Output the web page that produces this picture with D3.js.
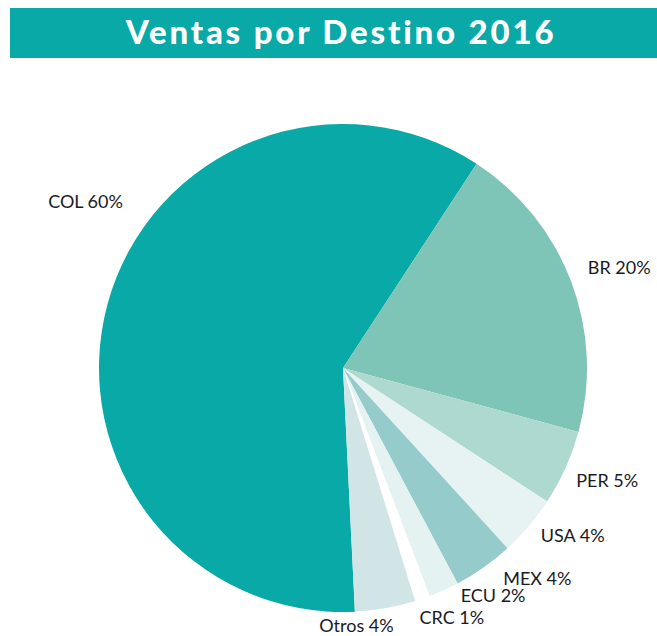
<!DOCTYPE html>
<html>
<head>
<meta charset="utf-8">
<script src="https://cdn.jsdelivr.net/npm/d3@7"></script>
<style>
	body { margin: 0; background: #fff; }
	svg { display: block; }
</style>
</head>
<body>
<div id="chart"></div>
<script>
var titleText = "Ventas por Destino 2016";
var destinos = ["COL", "BR", "PER", "USA", "MEX", "ECU", "CRC", "Otros"];
var ventas = [60, 20, 5, 4, 4, 2, 1, 4];
var colores = ["#08a9a7", "#7ec4b7", "#aed9d0", "#e7f3f3", "#95cccb", "#e4f2f2", "#ffffff", "#d1e5e6"];

// label placement: [angle in degrees clockwise from top, distance from centre]
var labelPlace = [[303, 307], [70, 294], [113, 287], [126, 284], [137.2, 286], [146.5, 272], [156.4, 272], [177, 257]];

var width = 657,
	height = 636;
var cx = 343,
	cy = 368,
	radius = 244;

var svg = d3.select("#chart").append("svg")
	.attr("width", width)
	.attr("height", height);

// title banner
svg.append("rect")
	.attr("x", 10)
	.attr("y", 8)
	.attr("width", width - 10)
	.attr("height", 50)
	.attr("fill", "#08a9a7");

svg.append("text")
	.attr("x", 341)
	.attr("y", 44)
	.attr("text-anchor", "middle")
	.attr("fill", "#fff")
	.style("font-family", "Lato, sans-serif")
	.style("font-weight", "900")
	.style("font-size", "33px")
	.style("letter-spacing", "2.8px")
	.text(titleText);

var data = destinos.map(function (d, i) {
	return { name: d, value: ventas[i], color: colores[i] };
});

var startDeg = 177.2;
var pie = d3.pie()
	.sort(null)
	.value(function (d) { return d.value; })
	.startAngle(startDeg * Math.PI / 180)
	.endAngle((startDeg + 360) * Math.PI / 180);

var arc = d3.arc().innerRadius(0).outerRadius(radius);

var g = svg.append("g").attr("transform", "translate(" + cx + "," + cy + ")");

g.selectAll("path")
	.data(pie(data))
	.enter()
	.append("path")
	.attr("d", arc)
	.attr("fill", function (d) { return d.data.color; });

g.selectAll("text")
	.data(data)
	.enter()
	.append("text")
	.attr("x", function (d, i) {
		return Math.sin(labelPlace[i][0] * Math.PI / 180) * labelPlace[i][1];
	})
	.attr("y", function (d, i) {
		return -Math.cos(labelPlace[i][0] * Math.PI / 180) * labelPlace[i][1];
	})
	.attr("text-anchor", "middle")
	.attr("dominant-baseline", "central")
	.attr("fill", "#1a1a24")
	.style("font-family", "Lato, sans-serif")
	.style("font-size", "18px")
	.text(function (d) { return d.name + " " + d.value + "%"; });
</script>
</body>
</html>
